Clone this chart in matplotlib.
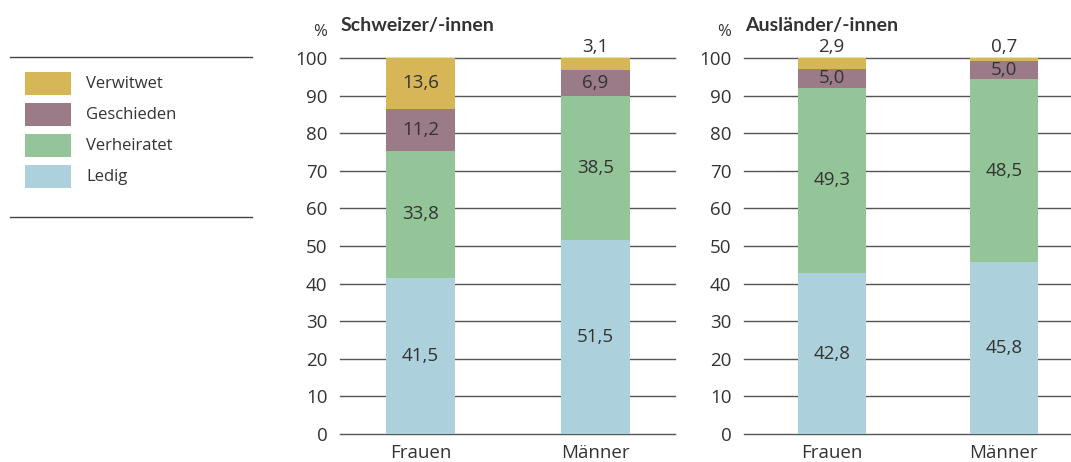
import matplotlib.pyplot as plt
from matplotlib.patches import Rectangle
from matplotlib.lines import Line2D

plt.rcParams['font.family'] = ['Open Sans', 'DejaVu Sans']

categories = ["Frauen", "Männer"]
series = ["Ledig", "Verheiratet", "Geschieden", "Verwitwet"]
colors = ["#add1dc", "#94c598", "#9a7b87", "#d6b656"]

schweizer = {
    "Ledig": [41.5, 51.5],
    "Verheiratet": [33.8, 38.5],
    "Geschieden": [11.2, 6.9],
    "Verwitwet": [13.6, 3.1],
}
auslaender = {
    "Ledig": [42.8, 45.8],
    "Verheiratet": [49.3, 48.5],
    "Geschieden": [5.0, 5.0],
    "Verwitwet": [2.9, 0.7],
}
panels = [("Schweizer/-innen", schweizer), ("Ausländer/-innen", auslaender)]

W, H = 1071, 462
fig = plt.figure(figsize=(W / 100, H / 100), dpi=100)
txt = "#333333"
fs = 13.5


def fx(px):
    return px / W


def fy(py):
    return (H - py) / H


# axes positions in pixels: (left, right), xlim
boxes = [((340, 675), (-0.46, 1.454)), ((744, 1071), (-0.509, 1.39))]
y0, y100 = 434, 58

for (title, data), ((xl, xr), xlim) in zip(panels, boxes):
    ax = fig.add_axes([fx(xl), fy(y0), (xr - xl) / W, (y0 - y100) / H])
    ax.set_xlim(*xlim)
    ax.set_ylim(0, 100)
    for s in ax.spines.values():
        s.set_visible(False)
    ax.set_yticks(range(0, 101, 10))
    ax.yaxis.grid(True, color="#555555", lw=1)
    for gl in ax.get_ygridlines():
        gl.set_clip_on(False)
    ax.set_axisbelow(True)
    ax.tick_params(length=0, labelsize=fs, colors=txt, pad=9)
    ax.tick_params(axis="x", pad=7)
    x = range(len(categories))
    bottom = [0.0, 0.0]
    for name, col in zip(series, colors):
        vals = data[name]
        ax.bar(x, vals, width=0.394, bottom=bottom, color=col, label=name, zorder=2)
        for i, v in enumerate(vals):
            lab = f"{v:.1f}".replace(".", ",")
            if v < 4:
                ax.text(i, 100.4, lab, ha="center", va="bottom", fontsize=fs,
                        color=txt, clip_on=False)
            else:
                ax.text(i, bottom[i] + v / 2, lab, ha="center", va="center",
                        fontsize=fs, color=txt, zorder=3)
        bottom = [b + v for b, v in zip(bottom, vals)]
    ax.set_xticks(list(x))
    ax.set_xticklabels(categories)
    fig.text(fx(xl + 1), fy(31), title, fontsize=14, fontweight="bold",
             family=["Lato", "DejaVu Sans"], color=txt, ha="left", va="baseline")
    fig.text(fx(xl - 13), fy(36), "%", fontsize=12, color=txt, ha="right", va="baseline")

# legend, drawn by hand so the boxes match
for k, (name, col) in enumerate(list(zip(series, colors))[::-1]):
    top = 72 + 31 * k
    fig.add_artist(Rectangle((fx(25), fy(top + 23)), 46 / W, 23 / H, facecolor=col,
                             edgecolor="none", transform=fig.transFigure))
    fig.text(fx(86), fy(top + 12), name, fontsize=12, color=txt, ha="left", va="center")
for yy in (57, 217):
    fig.add_artist(Line2D([fx(10), fx(252)], [fy(yy)] * 2, color="#444444", lw=1))

fig.savefig("out.png", dpi=100)
